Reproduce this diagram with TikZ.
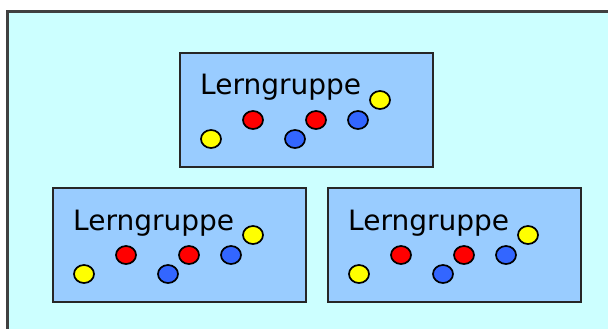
\documentclass[tikz,border=0pt]{standalone}
\usepackage{fontspec}
\setmainfont{DejaVu Sans}
\usetikzlibrary{shapes.geometric}
\usepackage{xcolor}
\definecolor{raum}{HTML}{CCFFFF}
\definecolor{gruppeblau}{HTML}{99CCFF}
\definecolor{gelb}{HTML}{FFFF00}
\definecolor{rot}{HTML}{FF0000}
\definecolor{blau}{HTML}{3366FF}

\begin{document}
\begin{tikzpicture}[
  x=1pt, y=-1pt,
  gruppe/.style={draw=black!85, line width=2pt, fill=gruppeblau, anchor=north west,
    minimum width=253pt, minimum height=114pt, inner sep=0pt},
  kind/.style={ellipse, draw=black, line width=1.7pt, minimum width=20pt,
    minimum height=18pt, inner sep=0pt},
  titel/.style={anchor=base west, inner sep=0pt, font=\fontsize{28}{30}\selectfont}
  ]
  \clip (0,0) rectangle (608,329);
  % Raum
  \node[draw=black!75, line width=2.6pt, fill=raum, anchor=north west,
    minimum width=700pt, minimum height=400pt] (raum) at (6,10) {};
  % drei Lerngruppen mit je sechs Kindern
  \foreach \g/\x/\y in {oben/179/52, links/52/187, rechts/327/187} {
    \node[gruppe] (\g) at (\x,\y) {};
    \node[titel] (\g-titel) at (\x+21,\y+43) {Lerngruppe};
    \foreach \k/\f/\dx/\dy in {g1/gelb/32/87, r1/rot/74/68, b1/blau/116/87,
                               r2/rot/137/68, b2/blau/179/68, g2/gelb/201/48}
      \node[kind, fill=\f] (\g-\k) at (\x+\dx,\y+\dy) {};
  }
\end{tikzpicture}
\end{document}
